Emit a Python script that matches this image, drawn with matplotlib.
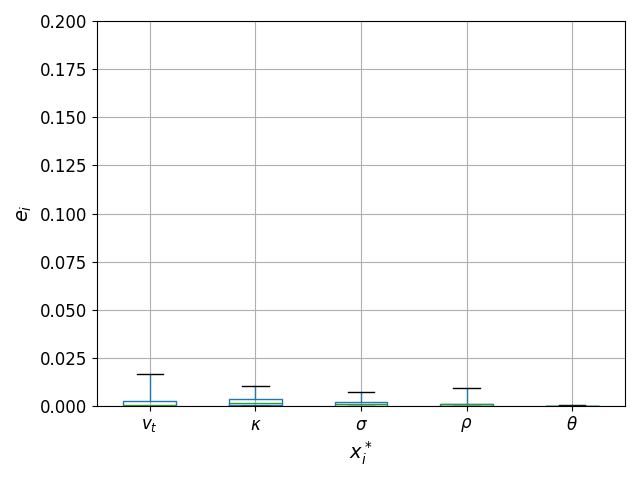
import matplotlib
matplotlib.use("Agg")
import matplotlib.pyplot as plt

categories = [r"$v_t$", r"$\kappa$", r"$\sigma$", r"$\rho$", r"$\theta$"]
whislo = [0.0, 0.0, 0.0, 0.0, 0.0]
q1 = [0.0, 0.0004, 0.0002, 0.0001, 0.0]
med = [0.0005, 0.0016, 0.0010, 0.0010, 0.0001]
q3 = [0.0026, 0.0036, 0.0021, 0.0013, 0.0003]
whishi = [0.0166, 0.0104, 0.0073, 0.0094, 0.0008]

stats = []
for i, lab in enumerate(categories):
    stats.append(dict(label=lab, whislo=whislo[i], q1=q1[i], med=med[i],
                      q3=q3[i], whishi=whishi[i], fliers=[]))

fig, ax = plt.subplots(figsize=(6.4, 4.8), dpi=100)
ax.bxp(stats, showfliers=False,
       boxprops=dict(color="#1f77b4"),
       whiskerprops=dict(color="#1f77b4"),
       medianprops=dict(color="#2ca02c"),
       capprops=dict(color="black"))
ax.grid(True)
ax.set_axisbelow("line")
ax.set_ylim(0, 0.2)
ax.tick_params(labelsize=12)
ax.set_xlabel(r"$x_i^*$", fontsize=14)
ax.set_ylabel(r"$e_i$", fontsize=14)
fig.subplots_adjust(left=0.1516, right=0.9766, top=0.956, bottom=0.154)
fig.savefig("out.png")
